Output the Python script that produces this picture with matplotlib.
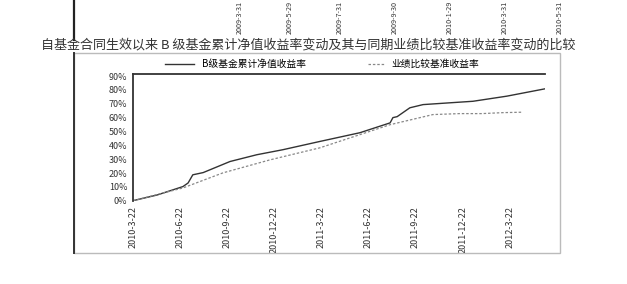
import matplotlib
matplotlib.use("Agg")
import matplotlib.pyplot as plt
from matplotlib.lines import Line2D
from matplotlib.patches import Rectangle

plt.rcParams['font.family'] = ['Noto Sans CJK SC', 'DejaVu Sans']

title = "自基金合同生效以来 B 级基金累计净值收益率变动及其与同期业绩比较基准收益率变动的比较"
fund_label = "B级基金累计净值收益率"
bench_label = "业绩比较基准收益率"

# x in units of one tick interval, y in percent
fund_x = [0, 0.51, 1.06, 1.17, 1.27, 1.49, 2.06, 2.63, 3.18, 3.97, 4.82, 5.46,
          5.52, 5.61, 5.88, 6.16, 6.73, 7.22, 7.94, 8.75]
fund_y = [0, 4.1, 10.2, 12.8, 18.7, 20.3, 28.3, 33.2, 36.8, 42.8, 49.1, 56.2,
          60.0, 60.7, 67.1, 69.4, 70.7, 71.8, 75.5, 80.8]

bench_x = [0, 1.06, 1.91, 2.91, 3.97, 5.46, 6.37, 6.94, 7.41, 7.86, 8.26]
bench_y = [0, 9.2, 20.1, 29.5, 38.2, 54.9, 62.2, 62.9, 62.9, 63.6, 63.9]

x_ticks = list(range(9))
x_labels = ["2010-3-22", "2010-6-22", "2010-9-22", "2010-12-22", "2011-3-22",
            "2011-6-22", "2011-9-22", "2011-12-22", "2012-3-22"]
y_ticks = list(range(0, 100, 10))
y_labels = [f"{v}%" for v in y_ticks]

top_x_px = [240, 290, 340, 395, 450, 505, 560]
top_labels = ["2009-3-31", "2009-5-29", "2009-7-31", "2009-9-30",
              "2010-1-29", "2010-3-31", "2010-5-31"]

W, H = 627, 284
fig = plt.figure(figsize=(W / 100, H / 100), dpi=100)
fig.patch.set_facecolor("white")

# remains of the chart above
fig.add_artist(Line2D([74 / W, 74 / W], [1, 1 - 40 / H], color="#222222", lw=1.6))
for xp, lab in zip(top_x_px, top_labels):
    fig.text(xp / W, 1 - 34 / H, lab, rotation=90, ha="center", va="bottom",
             fontsize=5.2, color="#333333")

fig.text(308 / W, 1 - 45 / H, title, ha="center", va="center", fontsize=9.4, color="#333333")

# frame around lower chart
fig.add_artist(Rectangle((74 / W, 1 - 253 / H), (560 - 74) / W, (253 - 53) / H,
                         fill=False, edgecolor="#bbbbbb", lw=1.0))
fig.add_artist(Line2D([74 / W, 74 / W], [1 - 53 / H, 1 - 253 / H], color="#333333", lw=1.4))

ax = fig.add_axes([133 / W, 1 - 200.7 / H, (545 - 133) / W, (200.7 - 74) / H])
fund_line, = ax.plot(fund_x, fund_y, color="#333333", lw=1.0)
bench_line, = ax.plot(bench_x, bench_y, color="#888888", lw=0.9, ls=(0, (2, 1.5)))

ax.set_xlim(0, 8.75)
ax.set_ylim(0, 91.5)
ax.set_xticks(x_ticks)
ax.set_xticklabels(x_labels, rotation=90, fontsize=6.5, color="#333333")
ax.set_yticks(y_ticks)
ax.set_yticklabels(y_labels, fontsize=6.5, color="#333333")
ax.tick_params(axis="both", length=0, pad=4)
for s in ["right", "bottom"]:
    ax.spines[s].set_visible(False)
ax.spines["left"].set_linewidth(1.3)
ax.spines["top"].set_linewidth(1.3)
ax.spines["left"].set_color("#333333")
ax.spines["top"].set_color("#333333")

# legend entries placed above the axes
fig.legend([fund_line], [fund_label], loc="center left", bbox_to_anchor=(165 / W, 1 - 64 / H),
           frameon=False, fontsize=7, handlelength=3, borderpad=0, borderaxespad=0)
fig.legend([bench_line], [bench_label], loc="center left", bbox_to_anchor=(368 / W, 1 - 64 / H),
           frameon=False, fontsize=7, handlelength=1.6, borderpad=0, borderaxespad=0)

fig.savefig("out.png", dpi=100)
